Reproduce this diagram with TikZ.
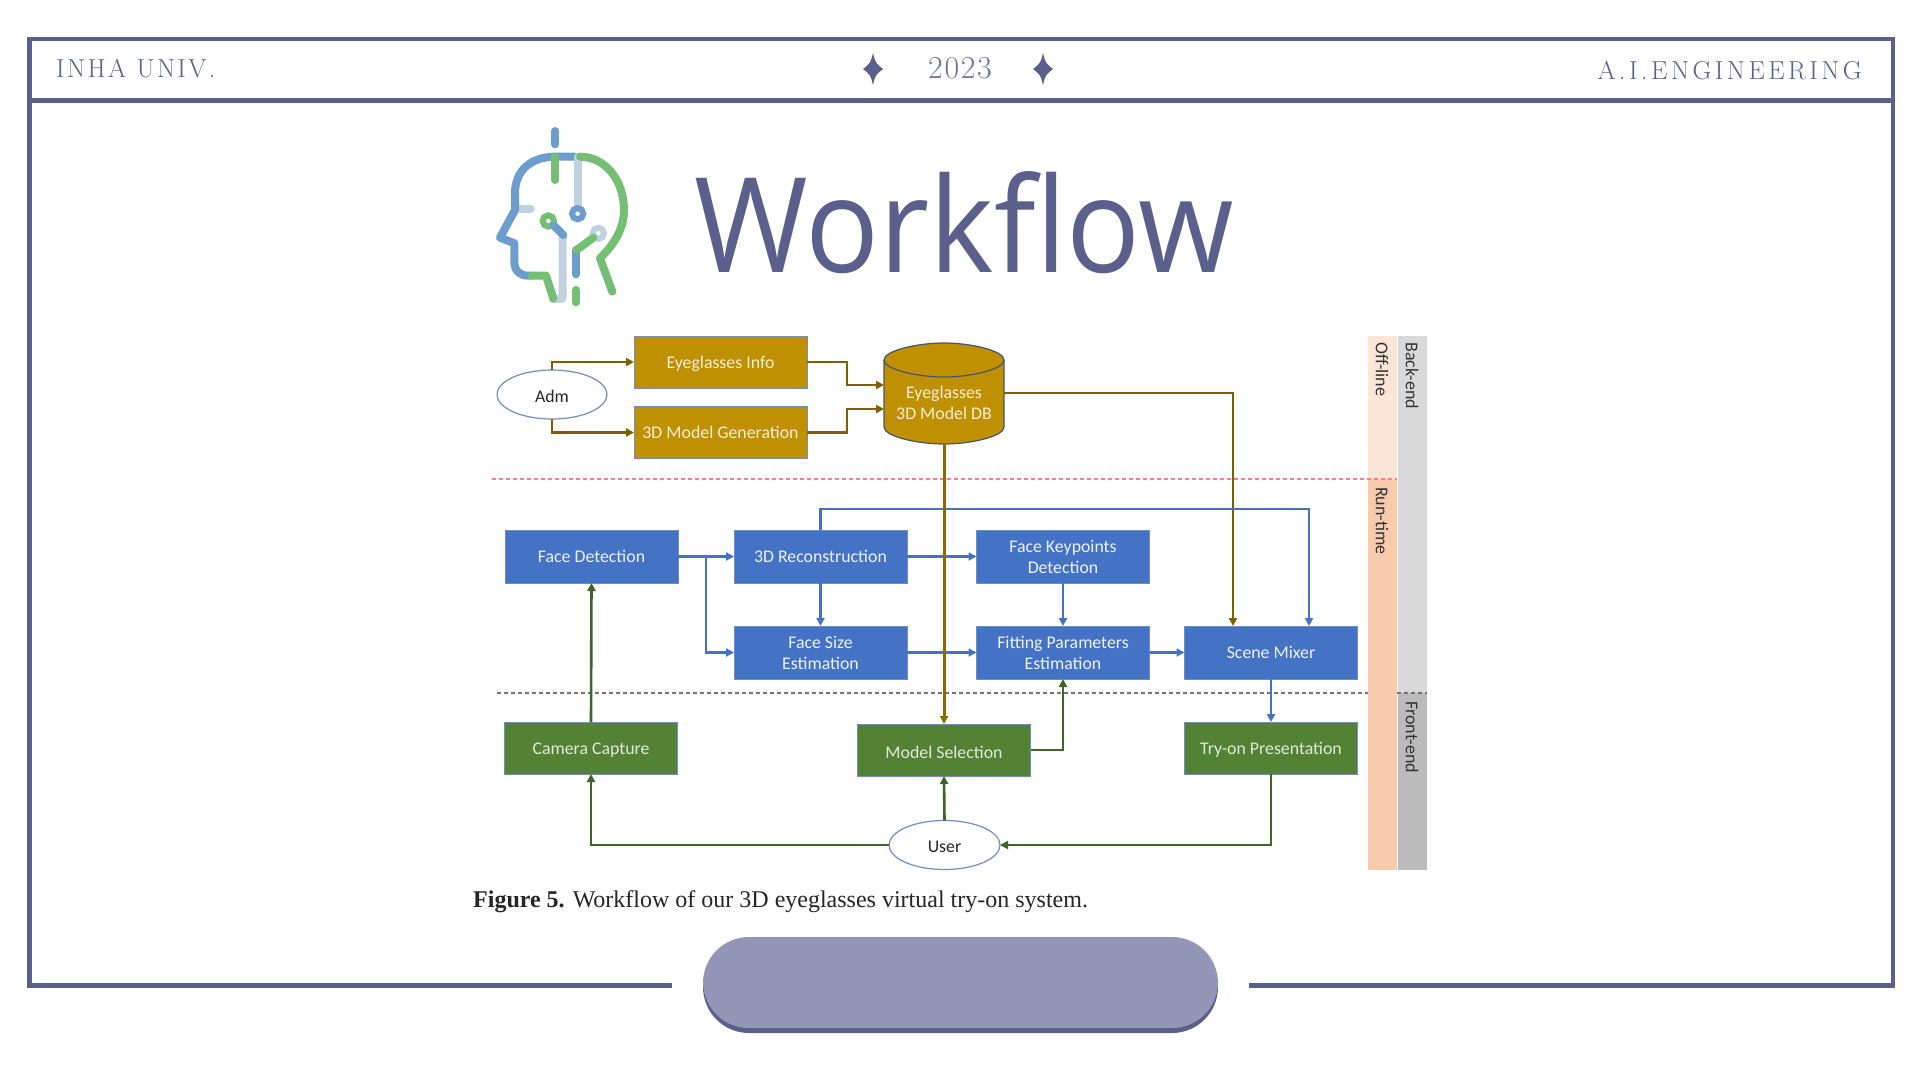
\documentclass[tikz,border=0pt]{standalone}
\usepackage{fontspec}
\usetikzlibrary{shapes.geometric,arrows.meta}
\newfontfamily\diagfont{Carlito}
\newfontfamily\titlefont{Open Sans}
\newfontfamily\capfont{Liberation Serif}
\newfontfamily\headA[LetterSpace=9.5]{Latin Modern Roman}
\newfontfamily\headB[LetterSpace=5]{Latin Modern Roman}
\newfontfamily\headC[LetterSpace=13.5]{Latin Modern Roman}
\definecolor{frame}{HTML}{5A5F8C}
\definecolor{pill}{HTML}{9396B7}
\definecolor{gold}{HTML}{BF9000}
\definecolor{goldline}{HTML}{7F6000}
\definecolor{boxblue}{HTML}{4472C4}
\definecolor{boxgreen}{HTML}{548235}
\definecolor{greenline}{HTML}{3F6428}
\definecolor{edge}{HTML}{6F8FBF}
\definecolor{peachA}{HTML}{FBE5D6}
\definecolor{peachB}{HTML}{F8CBAD}
\definecolor{grayA}{HTML}{D9D9D9}
\definecolor{grayB}{HTML}{BBBBBB}
\definecolor{logoblue}{HTML}{6C9DCC}
\definecolor{logogreen}{HTML}{75BF75}
\definecolor{logolight}{HTML}{C0D2E0}
\tikzset{
  boxbase/.style={rectangle,draw=edge,line width=0.8pt,inner sep=0pt,outer sep=0pt,
    align=center,text=white,font=\diagfont\fontsize{17.8}{21}\selectfont},
  goldbox/.style={boxbase,fill=gold,text=white!85!gold,minimum width=173pt,minimum height=52pt},
  bluebox/.style={boxbase,fill=boxblue,text=white!90!boxblue,minimum width=173pt,minimum height=53pt},
  greenbox/.style={boxbase,fill=boxgreen,text=white!82!boxgreen,minimum width=173pt,minimum height=52pt},
  actor/.style={ellipse,draw=edge,fill=white,line width=1.2pt,inner sep=0pt,outer sep=0pt,
    minimum width=110pt,minimum height=49pt,text=black!85,font=\diagfont\fontsize{17.8}{21}\selectfont},
  arrowtip/.style={-{Triangle[length=8pt,width=8pt]}},
  goldarrow/.style={arrowtip,draw=goldline,line width=2.6pt},
  goldarrowb/.style={arrowtip,draw=goldline!80!gold,line width=3pt},
  bluearrow/.style={arrowtip,draw=boxblue,line width=2.6pt},
  greenarrow/.style={arrowtip,draw=greenline,line width=2.6pt},
  sidelabel/.style={rotate=-90,anchor=west,inner sep=0pt,text=black!80,font=\diagfont\fontsize{18}{20}\selectfont},
  headertext/.style={text=frame,inner sep=0pt},
  logostroke/.style={line width=8pt,line cap=round,line join=round},
  logoring/.style={line width=6pt},
  dashline/.style={line width=2pt,dash pattern=on 4pt off 3pt}
}
\newcommand{\sparkle}[2]{\fill[frame] (#1,#2-16) .. controls (#1+2.5,#2-6) .. (#1+10,#2) .. controls (#1+2.5,#2+6) .. (#1,#2+16) .. controls (#1-2.5,#2+6) .. (#1-10,#2) .. controls (#1-2.5,#2-6) .. cycle;}
\newcommand{\lowered}[1]{\raisebox{-2pt}[\height][\depth]{#1}}
\begin{document}
\begin{tikzpicture}[x=1pt,y=-1pt]
\useasboundingbox (0,0) rectangle (1920,1080);
\fill[white] (0,0) rectangle (1920,1080);
% frame
\draw[frame,line width=4.5pt,line join=miter] (672,985.5) -- (29.5,985.5) -- (29.5,39) -- (1893,39) -- (1893,985.5) -- (1249,985.5);
\draw[frame,line width=4.5pt] (29.5,100.5) -- (1893,100.5);
% pill
\fill[frame] (703,942) [rounded corners=46pt] rectangle (1218,1033);
\fill[pill] (703,937) [rounded corners=46pt] rectangle (1218,1028);
% header
\node[headertext,anchor=west,font=\headA\fontsize{26}{30}\selectfont] (uni) at (56,69) {INHA UNIV.};
\node[headertext,anchor=center,text=frame!85,font=\headB\fontsize{32}{36}\selectfont] (year) at (960,68) {2023};
\node[headertext,anchor=east,font=\headC\fontsize{26}{30}\selectfont] (dept) at (1862,71) {A.I.ENGINEERING};
\sparkle{873}{69}
\sparkle{1043}{69}
% title
\node[text=frame,inner sep=0pt,anchor=base west,xscale=0.93,transform shape,font=\titlefont\fontsize{132}{140}\selectfont] (title) at (694,272) {Workflow};
% logo
\begin{scope}[shift={(480,115)},x=0.3333pt,y=-0.3333pt]
\draw[logoblue,logostroke] (226,48) -- (226,88);
\draw[logolight,logostroke] (120,282) -- (152,282);
\draw[logoblue,logostroke] (285,125) -- (226,125) .. controls (155,125) and (105,165) .. (105,235) -- (105,285) -- (60,368) -- (103,385) -- (103,440) .. controls (103,468) and (120,482) .. (145,482) -- (155,482);
\draw[logolight,logostroke] (295,125) -- (295,280);
\draw[logolight,logostroke] (248,365) -- (248,545) .. controls (248,552) .. (240,552) -- (218,552);
\draw[logolight,logoring] (355,355) circle (17);
\draw[logogreen,logostroke] (300,125) .. controls (375,125) and (432,195) .. (432,285) .. controls (432,340) and (405,385) .. (360,430) -- (397,530);
\draw[logogreen,logostroke] (155,482) -- (198,482) -- (220,550);
\draw[logogreen,logostroke] (226,125) -- (226,195);
\draw[logogreen,logoring] (205,318) circle (17);
\draw[logoblue,logostroke] (222,332) -- (250,360);
\draw[logoblue,logoring] (293,296) circle (17);
\draw[logoblue,logostroke] (288,405) -- (288,478);
\draw[logogreen,logostroke] (340,368) -- (290,405);
\draw[logogreen,logostroke] (288,525) -- (288,562);
\end{scope}
% side bars
\fill[peachA] (1368,336) rectangle (1397,479);
\fill[peachB] (1368,479) rectangle (1397,870);
\fill[grayA] (1398,336) rectangle (1427,693);
\fill[grayB] (1398,693) rectangle (1427,870);
\draw[red!50!white,dashline] (492,479) -- (1397,479);
\draw[black!55,dashline] (497,693) -- (1368,693);
\draw[black!55,dashline] (1397,693) -- (1427,693);
\node[sidelabel] (offline) at (1382,342) {Off-line};
\node[sidelabel] (backend) at (1412,342) {Back-end};
\node[sidelabel] (runtime) at (1382,487) {Run-time};
\node[sidelabel] (frontend) at (1412,701) {Front-end};
% nodes
\node[actor] (adm) at (552,394.5) {\lowered{Adm}};
\node[goldbox] (info) at (720.5,362) {\lowered{Eyeglasses Info}};
\node[goldbox] (gen) at (720.5,432.5) {3D Model Generation};
% database drum
\path[draw=edge!60!black,fill=gold,line width=1.2pt] (884,360) .. controls (884,350.6) and (917,343) .. (944,343) .. controls (971,343) and (1004,350.6) .. (1004,360) -- (1004,427) .. controls (1004,436.4) and (971,444) .. (944,444) .. controls (917,444) and (884,436.4) .. (884,427) -- cycle;
\draw[edge!60!black,line width=1.2pt] (884,360) .. controls (884,369.4) and (917,377) .. (944,377) .. controls (971,377) and (1004,369.4) .. (1004,360);
\node[rectangle,inner sep=0pt,outer sep=0pt,minimum width=120pt,minimum height=101pt] (db) at (944,393.5) {};
\node[align=center,text=white!85!gold,inner sep=0pt,font=\diagfont\fontsize{17.8}{21}\selectfont] (dbtext) at (944,402.5) {Eyeglasses\\3D Model DB};
\coordinate (dbA) at (884,385);
\coordinate (dbB) at (884,409);
\node[bluebox] (face) at (591.5,556.5) {Face Detection};
\node[bluebox] (recon) at (820.5,556.5) {3D Reconstruction};
\node[bluebox] (keyp) at (1063,556.5) {Face Keypoints\\Detection};
\node[bluebox] (size) at (820.5,652.5) {Face Size\\Estimation};
\node[bluebox] (fit) at (1063,652.5) {Fitting Parameters\\Estimation};
\node[bluebox] (mix) at (1271,652.5) {Scene Mixer};
\node[greenbox] (cam) at (591,748) {\lowered{Camera Capture}};
\node[greenbox] (sel) at (944,750) {\lowered{Model Selection}};
\node[greenbox] (tryon) at (1271,748) {\lowered{Try-on Presentation}};
\node[actor,minimum width=111pt] (user) at (944.5,845) {\lowered{User}};
\coordinate (mixB) at (1233,626);
\coordinate (mixC) at (1309,626);
\coordinate (fork) at (706,556.5);
\coordinate (dbRight) at (1004,393);
% gold connectors
\draw[goldarrow] (adm.north) |- (info.west);
\draw[goldarrow] (adm.south) |- (gen.west);
\draw[goldarrow] (info.east) -- ++(40,0) |- (dbA);
\draw[goldarrow] (gen.east) -- ++(40,0) |- (dbB);
\draw[goldarrow] (dbRight) -| (mixB);
% blue connectors
\draw[bluearrow] (face.east) -- (recon.west);
\draw[bluearrow] (fork) |- (size.west);
\draw[bluearrow] (recon.east) -- (keyp.west);
\draw[bluearrow] (recon.south) -- (size.north);
\draw[bluearrow] (size.east) -- (fit.west);
\draw[bluearrow] (keyp.south) -- (fit.north);
\draw[bluearrow] (fit.east) -- (mix.west);
\draw[bluearrow] (recon.north) |- (1000,509) -| (mixC);
\draw[bluearrow] (mix.south) -- (tryon.north);
\draw[goldarrowb] (db.south) -- (sel.north);
% green connectors
\draw[greenarrow] (cam.north) -- (face.south);
\draw[greenarrow] (user.west) -| (cam.south);
\draw[greenarrow] (user.north) -- (sel.south);
\draw[greenarrow] (sel.east) -| (fit.south);
\draw[greenarrow] (tryon.south) |- (user.east);
% caption
\node[anchor=base west,inner sep=0pt,text=black!85,font=\capfont\fontsize{24}{26}\selectfont] (caption) at (473,907) {\textbf{Figure 5.} Workflow of our 3D eyeglasses virtual try-on system.};
\end{tikzpicture}
\end{document}
